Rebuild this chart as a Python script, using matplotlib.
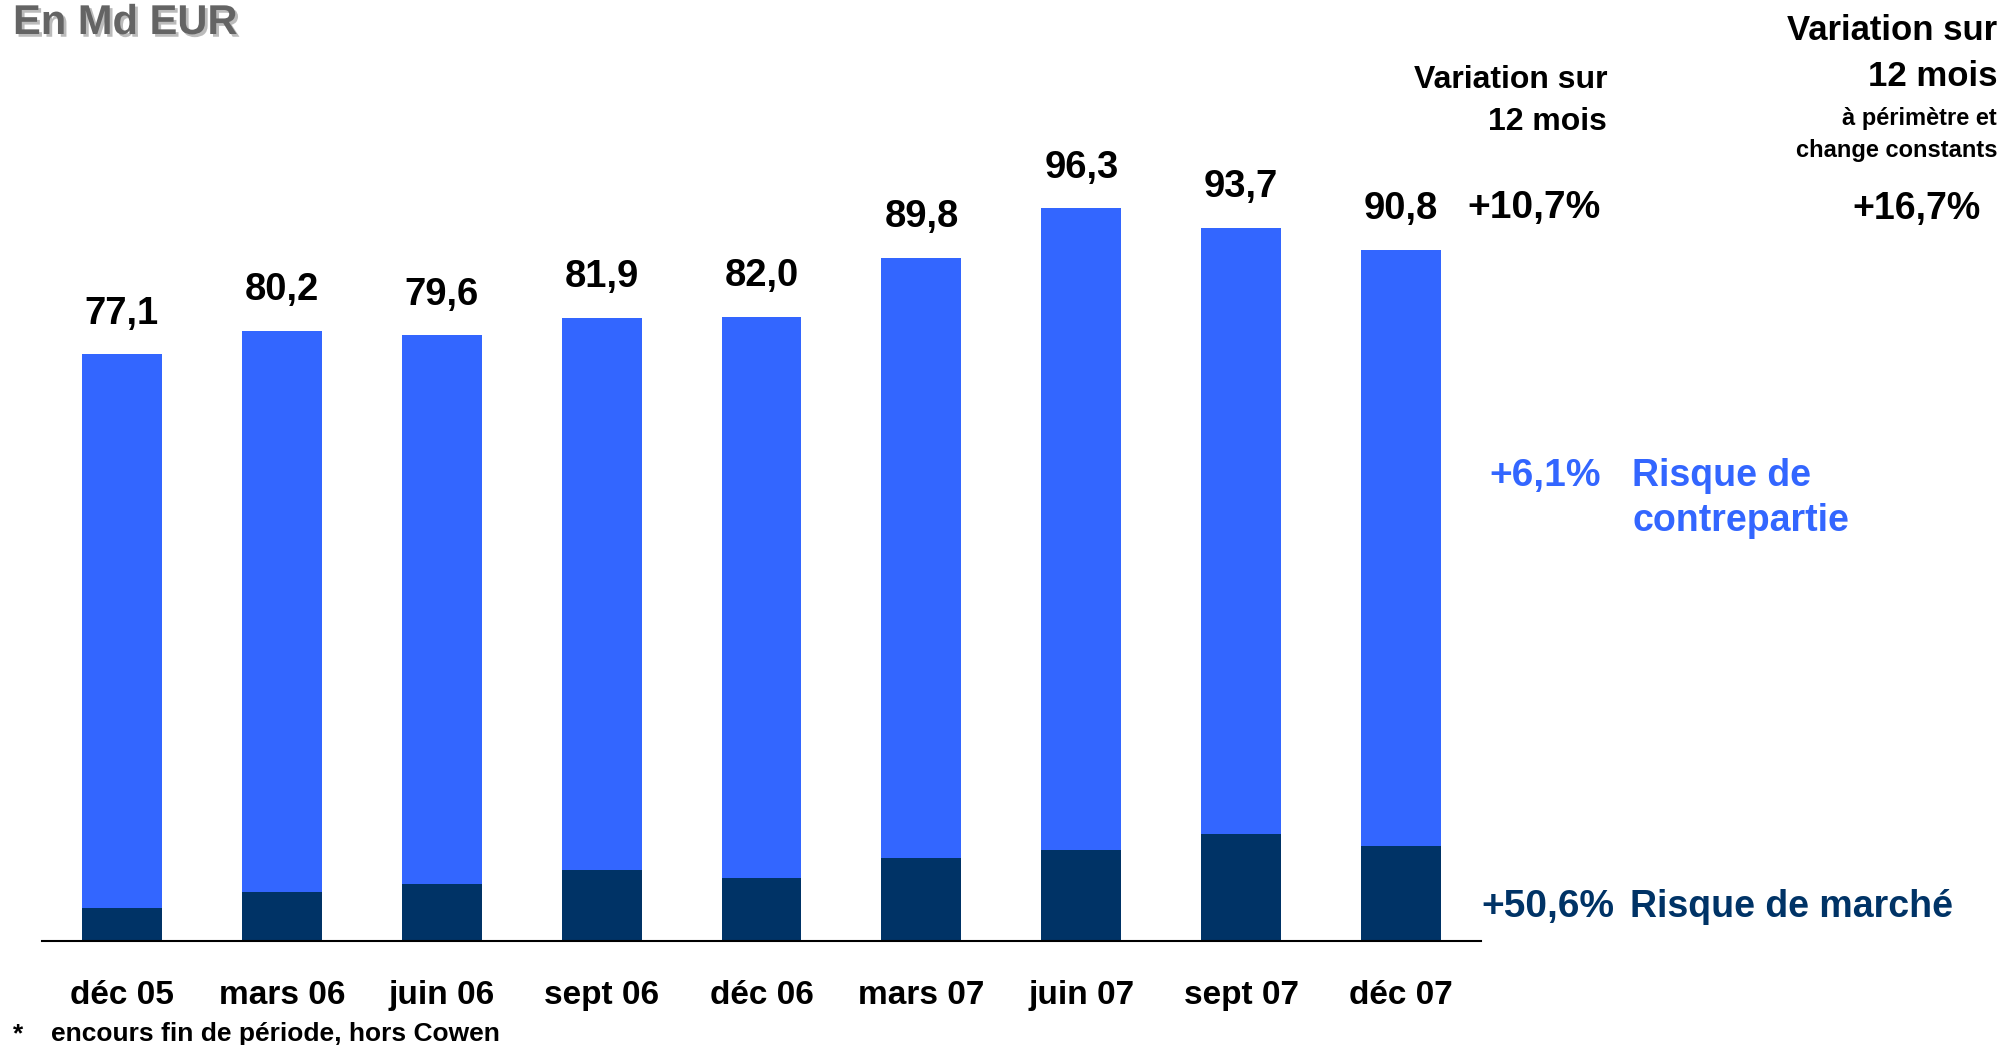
import matplotlib.pyplot as plt
import matplotlib.patheffects as pe

plt.rcParams['font.family'] = ['Liberation Sans', 'DejaVu Sans']
plt.rcParams['font.weight'] = 'bold'

periods = ["déc 05", "mars 06", "juin 06", "sept 06", "déc 06",
           "mars 07", "juin 07", "sept 07", "déc 07"]
totals = [77.1, 80.2, 79.6, 81.9, 82.0, 89.8, 96.3, 93.7, 90.8]
marche = [4.3, 6.5, 7.5, 9.3, 8.3, 10.9, 12.0, 14.1, 12.5]
contrepartie = [t - m for t, m in zip(totals, marche)]
total_labels = ["77,1", "80,2", "79,6", "81,9", "82,0", "89,8", "96,3", "93,7", "90,8"]

BLUE = "#3366FF"
NAVY = "#003366"
W, H = 2005, 1045

fig = plt.figure(figsize=(W / 100, H / 100), dpi=100)
ax = fig.add_axes([42 / W, 1 - 941 / H, (1481 - 42) / W, 799 / H])

x = range(len(periods))
ax.bar(x, marche, width=0.5, color=NAVY)
ax.bar(x, contrepartie, width=0.5, bottom=marche, color=BLUE)

for i, (t, lab) in enumerate(zip(totals, total_labels)):
    ax.annotate(lab, (i, t), xytext=(0, 22), textcoords="offset points",
                ha="center", va="baseline", fontsize=27.5, fontweight="bold")

ax.set_xlim(-0.5, len(periods) - 0.5)
ax.set_ylim(0, 105)
ax.set_xticks(list(x))
ax.set_xticklabels(periods, fontsize=24, fontweight="bold")
ax.tick_params(axis="x", length=0, pad=28)
ax.set_yticks([])
for s in ["top", "right", "left"]:
    ax.spines[s].set_visible(False)
ax.spines["bottom"].set_linewidth(1.5)


def ftext(px, py, s, **kw):
    fig.text(px / W, 1 - py / H, s, fontweight="bold", **kw)


ftext(13, 23, "En Md EUR", fontsize=30, color="#646464", ha="left", va="center",
      path_effects=[pe.withSimplePatchShadow(offset=(2, -2), shadow_rgbFace="#bbbbbb", alpha=1)])

# middle column
ftext(1607, 80, "Variation sur", fontsize=23, ha="right", va="center")
ftext(1607, 122, "12 mois", fontsize=23, ha="right", va="center")
ftext(1601, 208, "+10,7%", fontsize=28, ha="right", va="center")

# right column
ftext(1997, 30, "Variation sur", fontsize=25, ha="right", va="center")
ftext(1997, 77, "12 mois", fontsize=25, ha="right", va="center")
ftext(1997, 118, "à périmètre et", fontsize=17, ha="right", va="center")
ftext(1997, 150, "change constants", fontsize=17, ha="right", va="center")
ftext(1917, 209, "+16,7%", fontsize=27, ha="center", va="center")

ftext(1601, 476, "+6,1%", fontsize=28, ha="right", va="center", color=BLUE)
ftext(1632, 476, "Risque de", fontsize=27, ha="left", va="center", color=BLUE)
ftext(1632, 521, "contrepartie", fontsize=27, ha="left", va="center", color=BLUE)

ftext(1614, 907, "+50,6%", fontsize=28, ha="right", va="center", color=NAVY)
ftext(1630, 907, "Risque de marché", fontsize=27, ha="left", va="center", color=NAVY)

ftext(13, 1034, "*", fontsize=19, ha="left", va="center")
ftext(51, 1034, "encours fin de période, hors Cowen", fontsize=19, ha="left", va="center")

fig.savefig("out.png", dpi=100)
